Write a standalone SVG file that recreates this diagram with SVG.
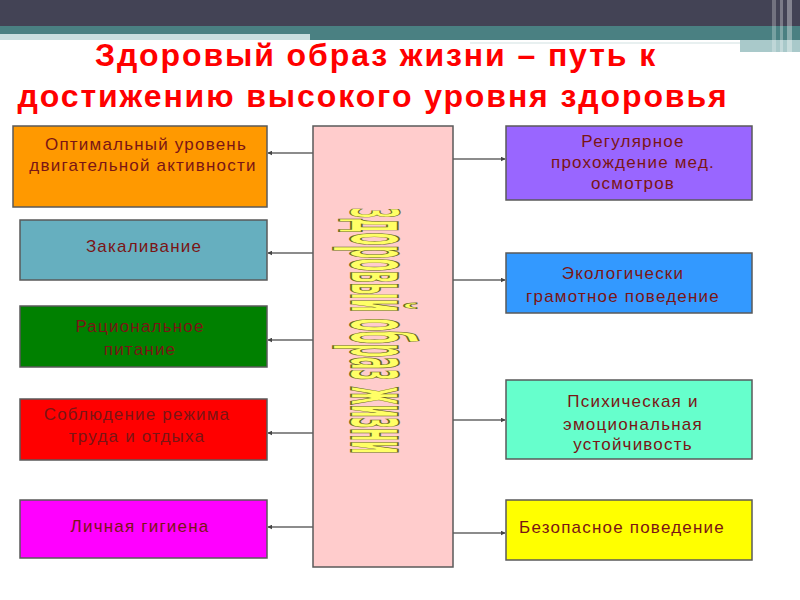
<svg xmlns="http://www.w3.org/2000/svg" width="800" height="600" viewBox="0 0 800 600">
<defs>
<style>
.box{stroke:#5a5a5a;stroke-width:1.5}
.lbl{font-family:"Liberation Sans",Arial,sans-serif;font-size:17px;fill:#7a1515;text-anchor:middle;letter-spacing:1.2px}
.title{font-family:"Liberation Sans",Arial,sans-serif;font-size:32px;font-weight:bold;fill:#ff0000;text-anchor:middle;letter-spacing:1.9px}
.conn{stroke:#666;stroke-width:1.5;fill:none}
</style>
<marker id="arr" viewBox="0 0 8 8" refX="7" refY="4" markerWidth="5" markerHeight="5" orient="auto" markerUnits="userSpaceOnUse">
<path d="M0,0 L8,4 L0,8 z" fill="#444"/>
</marker>
</defs>
<rect width="800" height="600" fill="#ffffff"/>
<g id="header">
<rect x="0" y="0" width="800" height="26" fill="#434355"/>
<rect x="0" y="26" width="800" height="14" fill="#4a8082"/>
<rect x="0" y="34" width="310" height="6" fill="#c9dedf"/>
<rect x="470" y="42" width="270" height="2" fill="#e8f0f0"/>
<rect x="740" y="40" width="60" height="12" fill="#a9c9ca"/>
<rect x="772" y="0" width="4" height="52" fill="#ffffff" opacity="0.25"/>
<rect x="780" y="0" width="3" height="52" fill="#ffffff" opacity="0.3"/>
<rect x="787" y="0" width="5" height="52" fill="#ffffff" opacity="0.35"/>
</g>
<g id="title">
<text class="title" x="376" y="66">Здоровый образ жизни – путь к</text>
<text class="title" x="373" y="107">достижению высокого уровня здоровья</text>
</g>
<g id="connectors">
<line class="conn" x1="313" y1="153" x2="268" y2="153" marker-end="url(#arr)"/>
<line class="conn" x1="313" y1="253" x2="268" y2="253" marker-end="url(#arr)"/>
<line class="conn" x1="313" y1="340" x2="268" y2="340" marker-end="url(#arr)"/>
<line class="conn" x1="313" y1="433" x2="268" y2="433" marker-end="url(#arr)"/>
<line class="conn" x1="313" y1="527" x2="268" y2="527" marker-end="url(#arr)"/>
<line class="conn" x1="453" y1="159" x2="505" y2="159" marker-end="url(#arr)"/>
<line class="conn" x1="453" y1="280" x2="505" y2="280" marker-end="url(#arr)"/>
<line class="conn" x1="453" y1="420" x2="505" y2="420" marker-end="url(#arr)"/>
<line class="conn" x1="453" y1="533" x2="505" y2="533" marker-end="url(#arr)"/>
</g>
<g id="center">
<rect class="box" x="313" y="126" width="140" height="441" fill="#ffcccc"/>
<text transform="translate(351,208) rotate(90) scale(0.237,1)" x="0" y="0" font-family="'Liberation Sans Narrow','DejaVu Sans Condensed',sans-serif" font-weight="bold" font-size="86" fill="#ffff66" stroke="#6b6b1f" stroke-width="1.3" vector-effect="non-scaling-stroke"><tspan font-size="66">З</tspan>доровый образ жизни</text>
</g>
<g id="n1">
<rect class="box" x="13" y="126" width="254" height="81" fill="#ff9900"/>
<text class="lbl" x="146" y="150">Оптимальный уровень</text>
<text class="lbl" x="143" y="171">двигательной активности</text>
</g>
<g id="n2">
<rect class="box" x="20" y="220" width="247" height="60" fill="#66afbf"/>
<text class="lbl" x="144" y="252">Закаливание</text>
</g>
<g id="n3">
<rect class="box" x="20" y="306" width="247" height="61" fill="#008000"/>
<text class="lbl" x="140" y="332" letter-spacing="2">Рациональное</text>
<text class="lbl" x="140" y="355" letter-spacing="2">питание</text>
</g>
<g id="n4">
<rect class="box" x="20" y="399" width="247" height="61" fill="#ff0000"/>
<text class="lbl" x="137" y="420">Соблюдение режима</text>
<text class="lbl" x="137" y="442">труда и отдыха</text>
</g>
<g id="n5">
<rect class="box" x="20" y="500" width="247" height="58" fill="#ff00ff"/>
<text class="lbl" x="140" y="532">Личная гигиена</text>
</g>
<g id="n6">
<rect class="box" x="506" y="126" width="246" height="74" fill="#9966ff"/>
<text class="lbl" x="633" y="147">Регулярное</text>
<text class="lbl" x="633" y="168">прохождение мед.</text>
<text class="lbl" x="633" y="189">осмотров</text>
</g>
<g id="n7">
<rect class="box" x="506" y="253" width="246" height="60" fill="#3399ff"/>
<text class="lbl" x="623" y="279">Экологически</text>
<text class="lbl" x="623" y="302">грамотное поведение</text>
</g>
<g id="n8">
<rect class="box" x="506" y="380" width="246" height="79" fill="#66ffcc"/>
<text class="lbl" x="633" y="407">Психическая и</text>
<text class="lbl" x="633" y="430">эмоциональная</text>
<text class="lbl" x="633" y="450">устойчивость</text>
</g>
<g id="n9">
<rect class="box" x="506" y="500" width="246" height="60" fill="#ffff00"/>
<text class="lbl" x="622" y="533">Безопасное поведение</text>
</g>
</svg>
